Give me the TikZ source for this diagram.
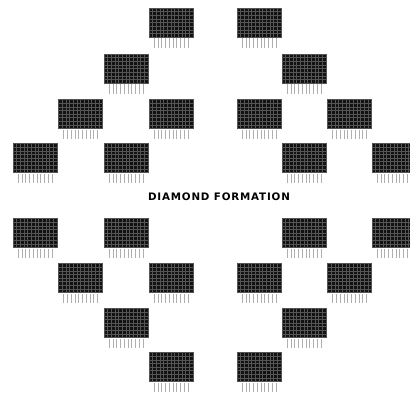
\documentclass[tikz,border=0pt]{standalone}
\usepackage{fontspec}
\setmainfont{Liberation Sans}
\newfontfamily\titlefont[LetterSpace=8]{DejaVu Sans Bold}
\usetikzlibrary{positioning}
\definecolor{chipBody}{RGB}{18,18,18}
\definecolor{chipGrid}{RGB}{85,85,85}
\definecolor{chipLeg}{RGB}{175,175,175}
\begin{document}
\begin{tikzpicture}[x=1pt,y=-1pt,
  chip/.pic={
    \fill[chipBody] (-22,-14.5) rectangle (22,14.5);
    \foreach \i in {1,...,11} {
      \draw[chipGrid,line width=0.35pt] (-22+\i*44/12,-14.5) -- ++(0,29);
    }
    \foreach \j in {1,...,7} {
      \draw[chipGrid,line width=0.35pt] (-22,-14.5+\j*29/8) -- ++(44,0);
    }
    \draw[chipGrid,line width=0.5pt] (-22,-14.5) rectangle (22,14.5);
    \foreach \k in {0,...,9} {
      \draw[chipLeg,line width=0.55pt] (-17+\k*34/9,15.5) -- ++(0,9.5);
    }
  },
  label/.style={font=\titlefont\fontsize{10.3}{12}\selectfont,inner sep=0pt}
]
\useasboundingbox (0,0) rectangle (410,392);
\clip (0,0) rectangle (410,392);
% Row 1
\pic (r1a) at (171,22.5) {chip};
\pic (r1b) at (259,22.5) {chip};
% Row 2
\pic (r2a) at (126,68.5) {chip};
\pic (r2b) at (304,68.5) {chip};
% Row 3
\pic (r3a) at (80.5,114) {chip};
\pic (r3b) at (171,114) {chip};
\pic (r3c) at (259,114) {chip};
\pic (r3d) at (349.5,114) {chip};
% Row 4
\pic (r4a) at (35,158) {chip};
\pic (r4b) at (126,158) {chip};
\pic (r4c) at (304,158) {chip};
\pic (r4d) at (394,158) {chip};
% Title
\node[label] (title) at (219,196.5) {DIAMOND FORMATION};
% Row 5
\pic (r5a) at (35,233) {chip};
\pic (r5b) at (126,233) {chip};
\pic (r5c) at (304,233) {chip};
\pic (r5d) at (394,233) {chip};
% Row 6
\pic (r6a) at (80.5,278) {chip};
\pic (r6b) at (171,278) {chip};
\pic (r6c) at (259,278) {chip};
\pic (r6d) at (349.5,278) {chip};
% Row 7
\pic (r7a) at (126,323) {chip};
\pic (r7b) at (304,323) {chip};
% Row 8
\pic (r8a) at (171,367) {chip};
\pic (r8b) at (259,367) {chip};
\end{tikzpicture}
\end{document}
